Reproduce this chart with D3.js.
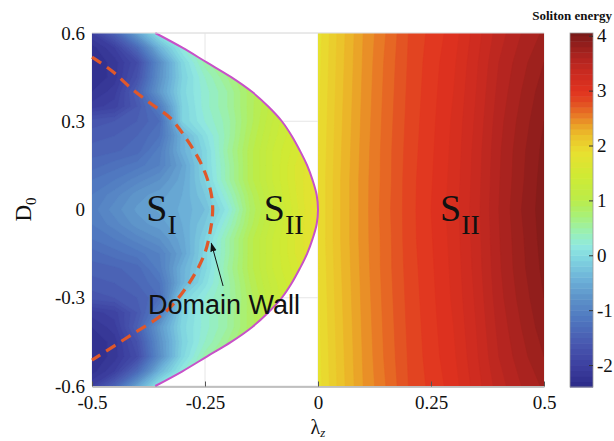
<!DOCTYPE html>
<html>
<head>
<meta charset="utf-8">
<script src="https://cdn.jsdelivr.net/npm/d3@7"></script>
<style>
  body { margin: 0; background: #fff; }
  svg { display: block; }
</style>
</head>
<body>
<div id="chart"></div>
<script>
// grid columns / rows (lambda_z, D_0)
const lamLeft  = [-0.5, -0.45, -0.4, -0.35, -0.3, -0.25, -0.2, -0.15, -0.1, -0.05, 0];
const lamRight = [0, 0.05, 0.1, 0.15, 0.2, 0.25, 0.3, 0.35, 0.4, 0.45, 0.5];
const dLeft  = [0.6, 0.55, 0.5, 0.45, 0.4, 0.35, 0.3, 0.25, 0.2, 0.15, 0.1, 0.05, 0,
                -0.05, -0.1, -0.15, -0.2, -0.25, -0.3, -0.35, -0.4, -0.45, -0.5, -0.55, -0.6];
const dRight = [0.6, 0.5, 0.4, 0.3, 0.2, 0.1, 0, -0.1, -0.2, -0.3, -0.4, -0.5, -0.6];

// soliton energy, S_I / S_II (left of lambda=0)
const energyLeft = [
  [-2.0, -1.45, -0.6, 0.15, 0.35, 0.55, 0.75, 0.95, 1.15, 1.35, 1.55],
  [-2.25, -2.0, -1.35, -0.4, 0.2, 0.45, 0.7, 0.9, 1.1, 1.3, 1.5],
  [-2.3, -2.15, -1.8, -0.85, -0.05, 0.45, 0.7, 0.9, 1.1, 1.3, 1.5],
  [-2.3, -2.15, -1.7, -0.8, -0.1, 0.3, 0.6, 0.9, 1.1, 1.3, 1.5],
  [-2.2, -2.05, -1.5, -0.7, -0.05, 0.25, 0.5, 0.85, 1.1, 1.3, 1.5],
  [-2.05, -1.95, -1.6, -1.05, -0.1, 0.25, 0.5, 0.85, 1.15, 1.4, 1.6],
  [-1.65, -1.6, -1.5, -1.3, -0.1, 0.2, 0.45, 0.85, 1.2, 1.5, 1.7],
  [-1.55, -1.5, -1.4, -1.2, -0.45, 0.05, 0.45, 0.9, 1.25, 1.5, 1.75],
  [-1.45, -1.42, -1.35, -1.05, -0.45, -0.05, 0.5, 0.95, 1.3, 1.55, 1.8],
  [-1.35, -1.25, -1.15, -1.0, -0.6, -0.05, 0.45, 0.95, 1.3, 1.6, 1.85],
  [-1.2, -1.1, -0.95, -0.8, -0.55, -0.1, 0.45, 0.95, 1.3, 1.6, 1.88],
  [-1.1, -0.95, -0.75, -0.65, -0.5, -0.2, 0.3, 0.85, 1.25, 1.58, 1.9],
  [-1.05, -0.85, -0.68, -0.58, -0.48, -0.3, 0.15, 0.8, 1.2, 1.55, 1.9],
  [-1.1, -0.95, -0.75, -0.65, -0.5, -0.2, 0.3, 0.85, 1.25, 1.58, 1.9],
  [-1.2, -1.1, -0.95, -0.8, -0.55, -0.1, 0.45, 0.95, 1.3, 1.6, 1.88],
  [-1.35, -1.25, -1.15, -1.0, -0.6, -0.05, 0.45, 0.95, 1.3, 1.6, 1.85],
  [-1.45, -1.42, -1.35, -1.05, -0.45, -0.05, 0.5, 0.95, 1.3, 1.55, 1.8],
  [-1.55, -1.5, -1.4, -1.2, -0.45, 0.05, 0.45, 0.9, 1.25, 1.5, 1.75],
  [-1.65, -1.6, -1.5, -1.3, -0.1, 0.2, 0.45, 0.85, 1.2, 1.5, 1.7],
  [-2.05, -1.95, -1.6, -1.05, -0.1, 0.25, 0.5, 0.85, 1.15, 1.4, 1.6],
  [-2.2, -2.05, -1.5, -0.7, -0.05, 0.25, 0.5, 0.85, 1.1, 1.3, 1.5],
  [-2.3, -2.15, -1.7, -0.8, -0.1, 0.3, 0.6, 0.9, 1.1, 1.3, 1.5],
  [-2.3, -2.15, -1.8, -0.85, -0.05, 0.45, 0.7, 0.9, 1.1, 1.3, 1.5],
  [-2.25, -2.0, -1.35, -0.4, 0.2, 0.45, 0.7, 0.9, 1.1, 1.3, 1.5],
  [-2.0, -1.45, -0.6, 0.15, 0.35, 0.55, 0.75, 0.95, 1.15, 1.35, 1.55]
];

// soliton energy, S_II right of lambda=0
const energyRight = [
  [1.85, 2.15, 2.4, 2.6, 2.8, 2.93, 3.05, 3.25, 3.45, 3.6, 3.72],
  [1.86, 2.16, 2.41, 2.62, 2.81, 2.95, 3.08, 3.28, 3.5, 3.66, 3.8],
  [1.87, 2.17, 2.42, 2.63, 2.82, 2.96, 3.1, 3.3, 3.53, 3.7, 3.86],
  [1.88, 2.18, 2.43, 2.64, 2.83, 2.97, 3.12, 3.32, 3.56, 3.74, 3.9],
  [1.89, 2.19, 2.44, 2.65, 2.84, 2.98, 3.13, 3.34, 3.58, 3.77, 3.93],
  [1.9, 2.2, 2.45, 2.65, 2.85, 2.99, 3.14, 3.35, 3.59, 3.78, 3.95],
  [1.9, 2.2, 2.45, 2.66, 2.85, 3.0, 3.15, 3.36, 3.6, 3.8, 3.96],
  [1.9, 2.2, 2.45, 2.65, 2.85, 2.99, 3.14, 3.35, 3.59, 3.78, 3.95],
  [1.89, 2.19, 2.44, 2.65, 2.84, 2.98, 3.13, 3.34, 3.58, 3.77, 3.93],
  [1.88, 2.18, 2.43, 2.64, 2.83, 2.97, 3.12, 3.32, 3.56, 3.74, 3.9],
  [1.87, 2.17, 2.42, 2.63, 2.82, 2.96, 3.1, 3.3, 3.53, 3.7, 3.86],
  [1.86, 2.16, 2.41, 2.62, 2.81, 2.95, 3.08, 3.28, 3.5, 3.66, 3.8],
  [1.85, 2.15, 2.4, 2.6, 2.8, 2.93, 3.05, 3.25, 3.45, 3.6, 3.72]
];

// stability boundary (magenta) and domain wall (dashed)
const edgeD   = [0.6, 0.55, 0.5, 0.45, 0.4, 0.35, 0.3, 0.25, 0.2, 0.15, 0.1, 0.05, 0,
                 -0.05, -0.1, -0.15, -0.2, -0.25, -0.3, -0.35, -0.4, -0.45, -0.5, -0.55, -0.6];
const edgeLam = [-0.36, -0.3, -0.246, -0.192, -0.146, -0.11, -0.08, -0.058, -0.04, -0.024, -0.012, -0.003, 0,
                 -0.003, -0.012, -0.024, -0.04, -0.058, -0.08, -0.11, -0.146, -0.192, -0.246, -0.3, -0.36];
const wallD   = [0.518, 0.47, 0.413, 0.36, 0.311, 0.233, 0.151, 0.073, 0.005, -0.07, -0.155, -0.257, -0.349, -0.427, -0.512];
const wallLam = [-0.5, -0.455, -0.414, -0.37, -0.327, -0.288, -0.257, -0.239, -0.233, -0.238, -0.252, -0.288, -0.338, -0.414, -0.5];

// colour bar
const cbVals = [-2.4, -2.0, -1.6, -1.15, -0.8, -0.45, -0.07, 0.17, 0.4, 0.72, 1.03, 1.46, 1.88, 2.19, 2.37, 2.55, 2.8, 3.0, 3.35, 3.6, 4.05];
const cbCols = ["#2c2a88", "#3d40a0", "#4858b0", "#5078c0", "#5c90c8", "#6cb0d8", "#80d4e0", "#90e8e0", "#98f0b8", "#a8f078",
                "#bcec48", "#d0ea34", "#e8e030", "#ecc02a", "#eaa028", "#e87a26", "#e24a22", "#e0321f", "#c82a20", "#b02420", "#7a1a18"];
const cbTicks = [4, 3, 2, 1, 0, -1, -2];
const cbLabels = ["4", "3", "2", "1", "0", "-1", "-2"];

const xTicks = [-0.5, -0.25, 0, 0.25, 0.5];
const xLabels = ["-0.5", "-0.25", "0", "0.25", "0.5"];
const yTicks = [0.6, 0.3, 0, -0.3, -0.6];
const yLabels = ["0.6", "0.3", "0", "-0.3", "-0.6"];

const width = 614, height = 441,
      margin = ({ top: 33, right: 70, bottom: 55, left: 92 });
const serif = "'Liberation Serif', 'Times New Roman', serif";

const svg = d3.select("#chart").append("svg")
    .attr("width", width).attr("height", height);

const x = d3.scaleLinear().domain([-0.5, 0.5]).range([margin.left, width - margin.right]);
const y = d3.scaleLinear().domain([-0.6, 0.6]).range([height - margin.bottom, margin.top]);
const color = d3.scaleLinear().domain(cbVals).range(cbCols).clamp(true);

// grid lines
svg.append("g").selectAll("line").data(xTicks).join("line")
    .attr("x1", d => x(d)).attr("x2", d => x(d))
    .attr("y1", y(0.6)).attr("y2", y(-0.6))
    .attr("stroke", "#e6e6e6");
svg.append("g").selectAll("line").data(yTicks).join("line")
    .attr("x1", x(-0.5)).attr("x2", x(0.5))
    .attr("y1", d => y(d)).attr("y2", d => y(d))
    .attr("stroke", "#e6e6e6");

const levels = d3.range(-2.4, 4.1, 0.1);

function gridPath(lams, ds) {
    const dl = lams[1] - lams[0], dd = ds[1] - ds[0];
    return d3.geoPath(d3.geoTransform({
        point(gx, gy) {
            this.stream.point(x(lams[0] + (gx - 0.5) * dl), y(ds[0] + (gy - 0.5) * dd));
        }
    }));
}

const defs = svg.append("defs");
const edgeLine = d3.line().x(d => x(d[0])).y(d => y(d[1])).curve(d3.curveCatmullRom);
const edgePts = edgeLam.map((l, i) => [l, edgeD[i]]);
defs.append("clipPath").attr("id", "clipLeft")
  .append("path")
    .attr("d", edgeLine(edgePts) + `L${x(-0.5)},${y(-0.6)}L${x(-0.5)},${y(0.6)}Z`);
defs.append("clipPath").attr("id", "clipRight")
  .append("rect")
    .attr("x", x(0)).attr("y", y(0.6))
    .attr("width", x(0.5) - x(0)).attr("height", y(-0.6) - y(0.6));

// filled contours
function drawField(field, lams, ds, clip) {
    const contours = d3.contours()
        .size([lams.length, ds.length])
        .thresholds(levels)(field.flat());
    const path = gridPath(lams, ds);
    svg.append("g").attr("clip-path", `url(#${clip})`)
      .selectAll("path").data(contours).join("path")
        .attr("d", path)
        .attr("fill", d => color(d.value + 0.05))
        .attr("stroke", d => color(d.value + 0.05))
        .attr("stroke-width", 0.6);
}
drawField(energyLeft, lamLeft, dLeft, "clipLeft");
drawField(energyRight, lamRight, dRight, "clipRight");

// stability boundary
svg.append("path")
    .attr("d", edgeLine(edgePts))
    .attr("fill", "none")
    .attr("stroke", "#c850c8")
    .attr("stroke-width", 2);

// domain wall
svg.append("path")
    .attr("d", edgeLine(wallLam.map((l, i) => [l, wallD[i]])))
    .attr("fill", "none")
    .attr("stroke", "#e0582a")
    .attr("stroke-width", 3.2)
    .attr("stroke-dasharray", "11,7");

// axes
svg.append("line")
    .attr("x1", x(-0.5)).attr("x2", x(0.5))
    .attr("y1", y(0.6)).attr("y2", y(0.6))
    .attr("stroke", "#e0e0e0");

const xAxis = svg.append("g")
    .attr("transform", `translate(0,${y(-0.6) + 0.5})`)
    .call(d3.axisBottom(x).tickValues(xTicks).tickFormat((d, i) => xLabels[i])
        .tickSizeInner(-5).tickSizeOuter(0).tickPadding(9));
xAxis.select(".domain").attr("stroke", "#8c8c8c");
xAxis.selectAll(".tick line").attr("stroke", "#555");
xAxis.selectAll("text").style("font-family", serif).style("font-size", "19px").attr("fill", "#111");

const yAxis = svg.append("g")
    .attr("transform", `translate(${x(-0.5)},0)`)
    .call(d3.axisLeft(y).tickValues(yTicks).tickFormat((d, i) => yLabels[i])
        .tickSizeInner(0).tickSizeOuter(0).tickPadding(7));
yAxis.select(".domain").remove();
yAxis.selectAll("text").style("font-family", serif).style("font-size", "19px").attr("fill", "#111");

// axis titles
const xt = svg.append("text")
    .attr("x", x(0)).attr("y", 434)
    .attr("text-anchor", "middle")
    .style("font-family", serif).style("font-size", "20px").attr("fill", "#111");
xt.append("tspan").text("λ");
xt.append("tspan").text("z").attr("font-style", "italic").attr("font-size", "13px").attr("dy", 3);

const yt = svg.append("text")
    .attr("transform", `translate(31,${y(0)}) rotate(-90)`)
    .attr("text-anchor", "middle")
    .style("font-family", serif).style("font-size", "23px").attr("fill", "#111");
yt.append("tspan").text("D");
yt.append("tspan").text("0").attr("font-size", "15px").attr("dy", 5);

// region labels
function regionLabel(lx, ly, sub) {
    const t = svg.append("text")
        .attr("x", x(lx)).attr("y", y(ly))
        .style("font-family", serif).style("font-size", "38px").attr("fill", "#111");
    t.append("tspan").text("S");
    t.append("tspan").text(sub).attr("font-size", "28px").attr("dy", 13);
}
regionLabel(-0.38, -0.04, "I");
regionLabel(-0.12, -0.04, "II");
regionLabel(0.27, -0.04, "II");

// domain wall annotation
svg.append("defs").append("marker")
    .attr("id", "arrow").attr("viewBox", "0 0 10 10")
    .attr("refX", 9).attr("refY", 5)
    .attr("markerWidth", 9).attr("markerHeight", 9)
    .attr("orient", "auto-start-reverse")
  .append("path").attr("d", "M0,1.5L10,5L0,8.5Z").attr("fill", "#111");
svg.append("line")
    .attr("x1", x(-0.21)).attr("y1", y(-0.26))
    .attr("x2", x(-0.236)).attr("y2", y(-0.115))
    .attr("stroke", "#111").attr("stroke-width", 1)
    .attr("marker-end", "url(#arrow)");
svg.append("text")
    .attr("x", x(-0.376)).attr("y", y(-0.355))
    .style("font-family", "'Liberation Sans', Arial, sans-serif").style("font-size", "27px")
    .attr("fill", "#111")
    .text("Domain Wall");

// colour bar
const cb = d3.scaleLinear().domain([-2.4, 4.05]).range([387, 33]);
const cbx = 570, cbw = 23;
svg.append("g").selectAll("rect").data(levels).join("rect")
    .attr("x", cbx).attr("width", cbw)
    .attr("y", d => cb(Math.min(d + 0.1, 4.05)))
    .attr("height", d => cb(d) - cb(Math.min(d + 0.1, 4.05)) + 0.5)
    .attr("fill", d => color(d + 0.05));
svg.append("rect")
    .attr("x", cbx).attr("y", cb(4.05)).attr("width", cbw).attr("height", cb(-2.4) - cb(4.05))
    .attr("fill", "none").attr("stroke", "#999").attr("stroke-width", 0.8);
const cbAxis = svg.append("g")
    .attr("transform", `translate(${cbx + cbw},0)`)
    .call(d3.axisRight(cb).tickValues(cbTicks).tickFormat((d, i) => cbLabels[i])
        .tickSizeInner(-4).tickSizeOuter(0).tickPadding(4));
cbAxis.select(".domain").remove();
cbAxis.selectAll(".tick line").attr("stroke", "#333");
cbAxis.selectAll("text").style("font-family", serif).style("font-size", "19px").attr("fill", "#111");

svg.append("text")
    .attr("x", 612).attr("y", 20)
    .attr("text-anchor", "end")
    .style("font-family", serif).style("font-size", "13px").style("font-weight", "bold")
    .attr("fill", "#111")
    .text("Soliton energy");
</script>
</body>
</html>
